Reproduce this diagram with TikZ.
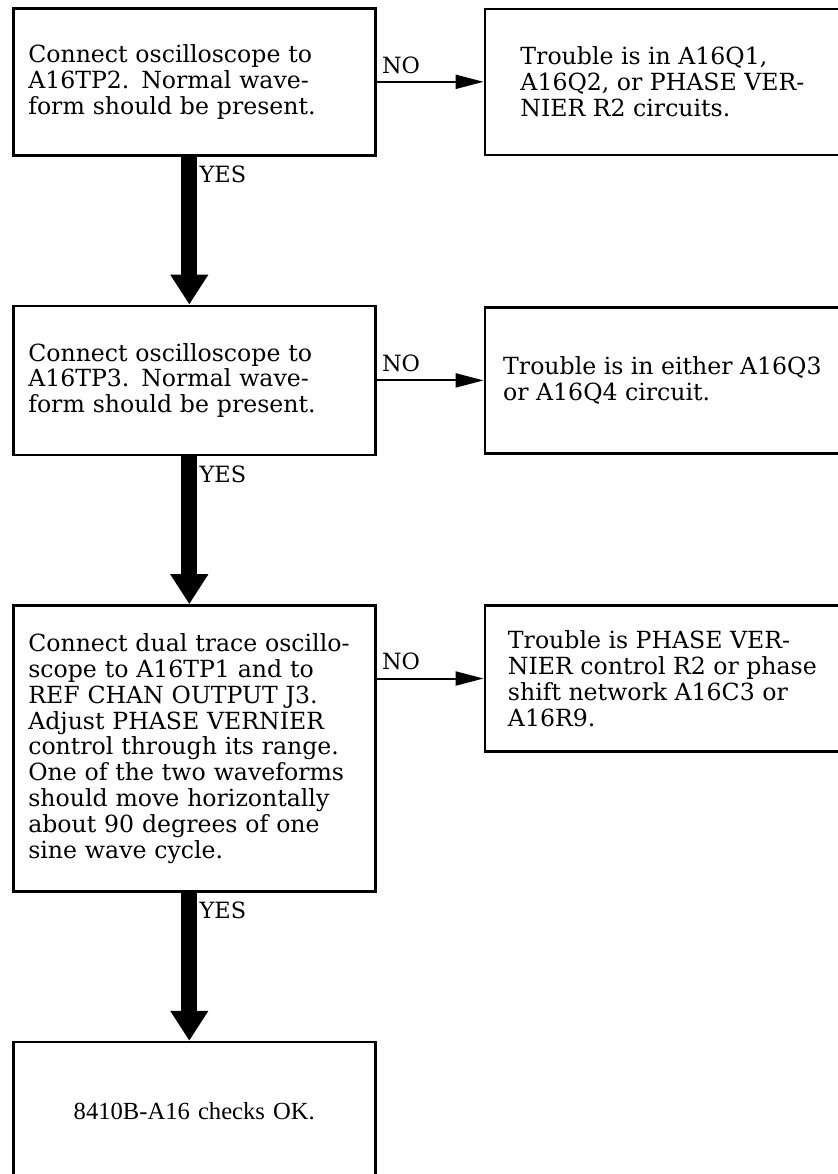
\documentclass[tikz,border=0pt]{standalone}
\usepackage{fontspec}
\setmainfont{DejaVu Serif}
\newfontfamily\okfont{Liberation Serif}
\usetikzlibrary{positioning,arrows.meta}

\begin{document}
\begin{tikzpicture}[node distance=74pt,
    every node/.style={font=\fontsize{11.8}{12.9}\selectfont},
    chk/.style={draw, line width=1.3pt, align=left, inner xsep=7.5pt, text width=166pt},
    fault/.style={draw, line width=1.3pt, align=left, minimum width=177.5pt, minimum height=73pt},
    answer/.style={inner sep=1pt, font=\fontsize{11.2}{12}\selectfont},
    yesarrow/.style={line width=8pt, -{Triangle[width=18pt,length=15pt]}},
    noarrow/.style={line width=1pt, -{Triangle[width=7pt,length=14pt]}}]
    \useasboundingbox (0,0) rectangle (419pt,-587pt);

    \node[chk, minimum height=73.5pt, anchor=north west] (test1) at (6pt,-3.5pt) {Connect oscilloscope to\\A16TP2. Normal wave-\\form should be present.};
    \node[chk, minimum height=74.5pt, below=of test1] (test2) {Connect oscilloscope to\\A16TP3. Normal wave-\\form should be present.};
    \node[chk, minimum height=143pt, below=of test2] (test3) {Connect dual trace oscillo-\\scope to A16TP1 and to\\REF CHAN OUTPUT J3.\\Adjust PHASE VERNIER\\control through its range.\\One of the two waveforms\\should move horizontally\\about 90 degrees of one\\sine wave cycle.};
    \node[chk, align=center, minimum height=69pt, below=of test3, font=\okfont\fontsize{12.3}{14}\selectfont] (done) {8410B-A16 checks OK.};

    \node[fault, right=53.5pt of test1] (fault1) {Trouble is in A16Q1,\\A16Q2, or PHASE VER-\\NIER R2 circuits.};
    \node[fault, right=53.5pt of test2] (fault2) {Trouble is in either A16Q3\\or A16Q4 circuit.};
    \node[fault, right=53.5pt of test3.north east, anchor=north west] (fault3) {Trouble is PHASE VER-\\NIER control R2 or phase\\shift network A16C3 or\\A16R9.};

    \draw[yesarrow] ([xshift=-2.5pt]test1.south) -- ([xshift=-2.5pt]test2.north);
    \draw[yesarrow] ([xshift=-2.5pt]test2.south) -- ([xshift=-2.5pt]test3.north);
    \draw[yesarrow] ([xshift=-2.5pt]test3.south) -- ([xshift=-2.5pt]done.north);
    \node[answer, anchor=north west] (yes1) at ([xshift=1.5pt,yshift=-3.5pt]test1.south) {YES};
    \node[answer, anchor=north west] (yes2) at ([xshift=1.5pt,yshift=-3.5pt]test2.south) {YES};
    \node[answer, anchor=north west] (yes3) at ([xshift=1.5pt,yshift=-3.5pt]test3.south) {YES};

    \draw[noarrow] (test1.east |- fault1.west) -- (fault1.west);
    \draw[noarrow] (test2.east |- fault2.west) -- (fault2.west);
    \draw[noarrow] (test3.east |- fault3.west) -- (fault3.west);
    \node[answer, anchor=south west] (no1) at ([xshift=1.5pt,yshift=3pt]test1.east |- fault1.west) {NO};
    \node[answer, anchor=south west] (no2) at ([xshift=1.5pt,yshift=3pt]test2.east |- fault2.west) {NO};
    \node[answer, anchor=south west] (no3) at ([xshift=1.5pt,yshift=3pt]test3.east |- fault3.west) {NO};
\end{tikzpicture}
\end{document}
